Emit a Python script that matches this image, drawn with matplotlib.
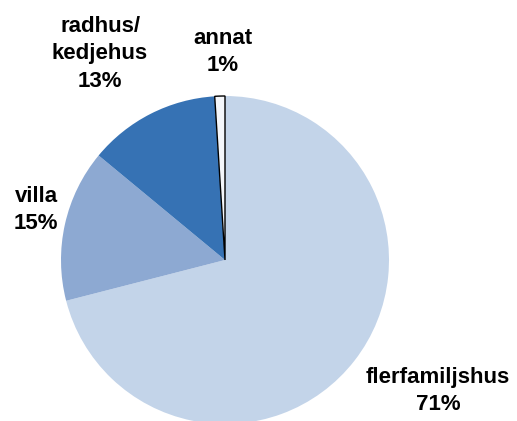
import numpy as np
import matplotlib
matplotlib.use('Agg')
import matplotlib.pyplot as plt

categories = ['flerfamiljshus', 'villa', 'radhus/\nkedjehus', 'annat']
shares = [71, 15, 13, 1]
colors = ['#C3D4E9', '#8DA9D2', '#3672B4', '#F4F6FA']

# label centres, pixel coords from bottom-left
label_pos = [(438, 30), (36, 211), (100, 367), (223, 369)]

fig = plt.figure(figsize=(5.17, 4.21), dpi=100)
ax = fig.add_axes([0, 0, 1, 1])

wedges, _ = ax.pie(shares, colors=colors, startangle=90, counterclock=False,
                   center=(225, 161), radius=164, frame=True)
wedges[3].set_edgecolor('black')
wedges[3].set_linewidth(1.0)
ax.set_xlim(0, 517)
ax.set_ylim(0, 421)
ax.set_axis_off()

for cat, s, (x, y) in zip(categories, shares, label_pos):
    ax.text(x, y, '%s\n%d%%' % (cat, s), ha='center', va='center',
            fontsize=16, fontweight='bold', family='Liberation Sans',
            linespacing=1.4, color='black')

fig.savefig('out.png', dpi=100)
